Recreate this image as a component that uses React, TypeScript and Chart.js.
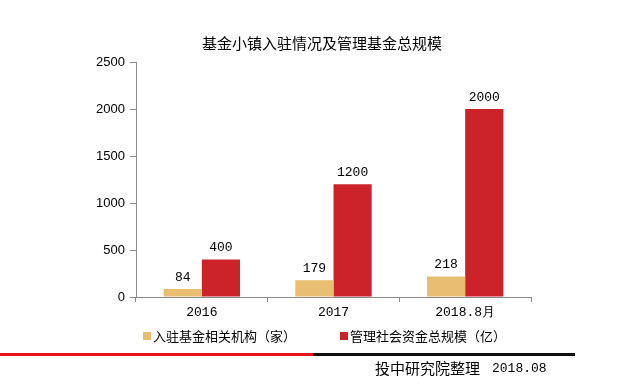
import React, { useEffect, useRef } from "react";
import { Chart, registerables } from "chart.js";

Chart.register(...registerables);

const categories = ["2016", "2017", "2018.8月"];
const institutions = [84, 179, 218];
const fundScale = [400, 1200, 2000];
const seriesNames = ["入驻基金相关机构（家）", "管理社会资金总规模（亿）"];
const yTicks = [0, 500, 1000, 1500, 2000, 2500];
const titleText = "基金小镇入驻情况及管理基金总规模";
const footerText = "投中研究院整理";
const footerDate = "2018.08";

const TAN = "#E8BE72";
const RED = "#CC222A";
const AXIS = "#8a8a8a";
const CJK = '"Noto Sans CJK SC", sans-serif';
const MONO = '"Liberation Mono", monospace';

const overlay = {
  id: "overlay",
  afterDraw(chart: any) {
    const ctx = chart.ctx;
    ctx.save();
    // title
    ctx.fillStyle = "#000";
    ctx.font = "15px " + CJK;
    ctx.textAlign = "center";
    ctx.textBaseline = "middle";
    ctx.fillText(titleText, 322, 43);

    // data labels
    ctx.font = "13px " + MONO;
    ctx.textBaseline = "bottom";
    chart.data.datasets.forEach((ds: any, i: number) => {
      const meta = chart.getDatasetMeta(i);
      meta.data.forEach((el: any, j: number) => {
        ctx.fillText(String(ds.data[j]), el.x, el.y - 5);
      });
    });

    // legend
    const colors = [TAN, RED];
    const legendX = [143, 340];
    ctx.font = "13px " + CJK;
    ctx.textAlign = "left";
    ctx.textBaseline = "middle";
    seriesNames.forEach((name, i) => {
      ctx.fillStyle = colors[i];
      ctx.fillRect(legendX[i], 332, 8, 8);
      ctx.fillStyle = "#000";
      ctx.fillText(name, legendX[i] + 10, 336);
    });

    // footer line
    ctx.fillStyle = "#E8141B";
    ctx.fillRect(0, 353, 313, 3);
    ctx.fillStyle = "#111";
    ctx.fillRect(313, 353, 262, 3);

    // footer text
    ctx.fillStyle = "#000";
    ctx.font = "15px " + CJK;
    ctx.textAlign = "left";
    ctx.fillText(footerText, 375, 368);
    ctx.font = "13px " + MONO;
    ctx.fillText(footerDate, 492, 369);
    ctx.restore();
  },
};

export default function App() {
  const ref = useRef<HTMLCanvasElement>(null);
  useEffect(() => {
    if (!ref.current) return;
    const chart = new Chart(ref.current, {
      type: "bar",
      data: {
        labels: categories,
        datasets: [
          { label: seriesNames[0], data: institutions, backgroundColor: TAN, categoryPercentage: 0.58, barPercentage: 1 },
          { label: seriesNames[1], data: fundScale, backgroundColor: RED, categoryPercentage: 0.58, barPercentage: 1 },
        ],
      },
      options: {
        responsive: false,
        animation: false,
        layout: { padding: { left: 0, right: 109, top: 62, bottom: 0 } },
        plugins: { legend: { display: false }, title: { display: false }, tooltip: { enabled: false } },
        scales: {
          x: {
            grid: { drawOnChartArea: false, drawTicks: true, tickLength: 5, color: AXIS, offset: true },
            border: { color: AXIS, width: 1 },
            ticks: { color: "#000", font: { family: MONO, size: 13 }, padding: 3, maxRotation: 0 },
            afterFit: (s: any) => { s.height = 93; },
          },
          y: {
            min: 0,
            max: 2500,
            afterBuildTicks: (s: any) => { s.ticks = yTicks.map((v) => ({ value: v })); },
            grid: { drawOnChartArea: false, drawTicks: true, tickLength: 6, color: AXIS },
            border: { color: AXIS, width: 1 },
            ticks: {
              color: "#000",
              font: { family: '"Liberation Sans", sans-serif', size: 13 },
              padding: 5,
              callback: (v: any) => String(v),
            },
            afterFit: (s: any) => { s.width = 136; },
          },
        },
      },
      plugins: [overlay],
    });
    return () => chart.destroy();
  }, []);
  return (
    <div style={{ position: "absolute", left: 0, top: 0, width: 640, height: 390, background: "#fff" }}>
      <canvas ref={ref} width={640} height={390} />
    </div>
  );
}
